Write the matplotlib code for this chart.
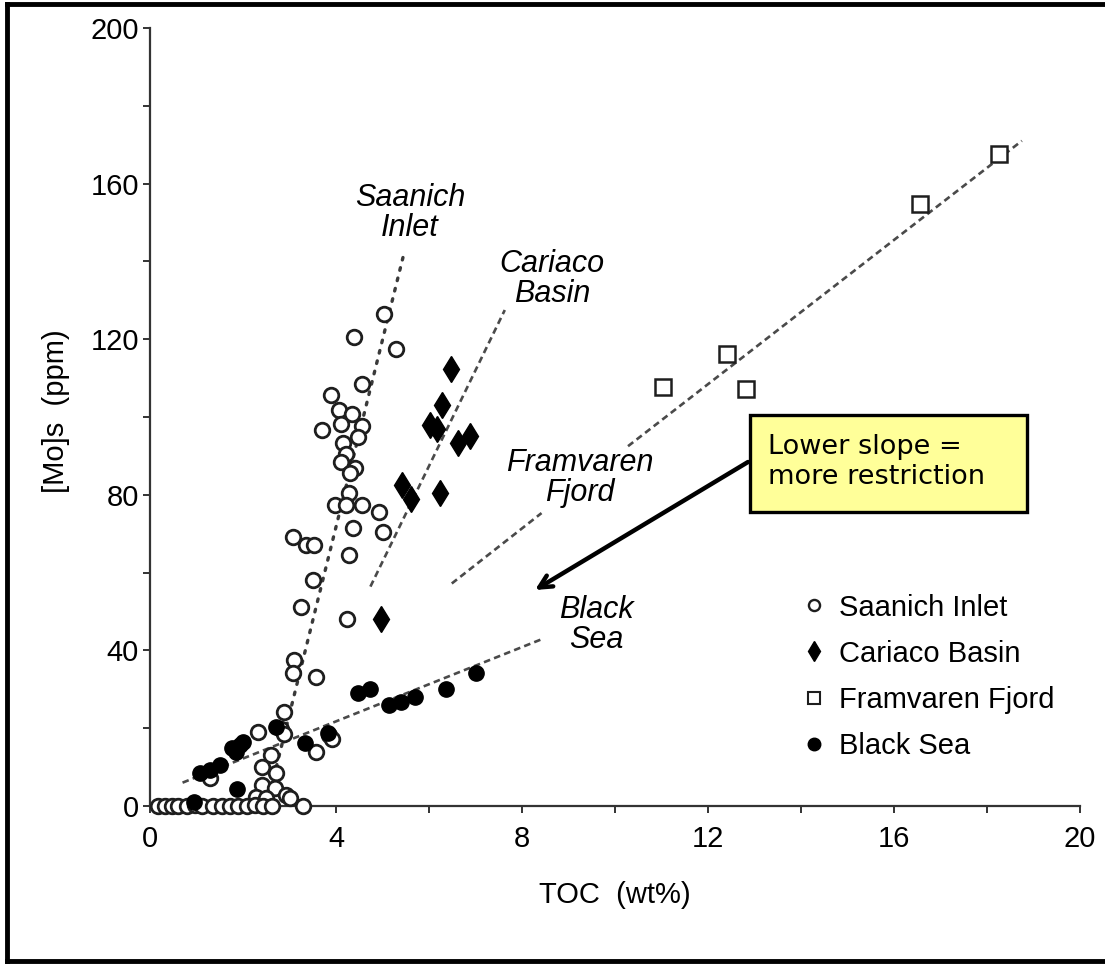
import matplotlib
matplotlib.use("Agg")
import matplotlib.pyplot as plt
from matplotlib.lines import Line2D
from matplotlib.patches import Rectangle

plt.rcParams['font.family'] = ['Liberation Sans', 'DejaVu Sans']

# --- data: TOC (wt%) vs. sedimentary Mo (ppm) ---
saanich_toc = [5.04, 4.39, 5.29, 4.55, 3.89, 4.07, 4.34, 4.10, 4.55, 3.69, 4.48, 4.14,
               4.21, 4.10, 4.41, 4.30, 4.27, 3.98, 4.21, 4.55, 4.93, 5.02, 4.36, 3.08,
               3.35, 3.53, 4.27, 3.51, 3.24, 4.23, 3.10, 3.07, 3.56, 2.88, 2.33, 2.81,
               2.88, 3.86, 3.91, 3.57, 2.60, 2.40, 2.70, 1.28, 2.40, 2.69, 2.29, 2.49,
               2.92, 3.01, 3.30,
               0.18, 0.32, 0.47, 0.61, 0.80, 0.97, 1.12, 1.35, 1.55, 1.72, 1.89, 2.09,
               2.26, 2.43, 2.62]
saanich_mo = [126.6, 120.5, 117.4, 108.6, 105.6, 101.8, 100.8, 98.2, 97.7, 96.7, 94.9, 93.2,
              90.5, 88.5, 86.8, 85.5, 80.5, 77.4, 77.4, 77.4, 75.6, 70.5, 71.4, 69.2,
              67.1, 67.1, 64.5, 58.1, 51.2, 48.2, 37.5, 34.1, 33.2, 24.2, 19.1, 19.9,
              18.6, 18.3, 17.1, 13.9, 13.1, 10.1, 8.6, 7.1, 5.4, 4.5, 2.4, 2.0,
              2.8, 2.0, 0.0,
              0.0, 0.0, 0.0, 0.0, 0.0, 0.3, 0.0, 0.0, 0.0, 0.0, 0.0, 0.0,
              0.3, 0.0, 0.0]

cariaco_toc = [6.47, 6.29, 6.02, 6.18, 6.63, 6.88, 5.41, 5.61, 6.24, 4.96]
cariaco_mo = [112.3, 103.1, 97.9, 96.8, 93.4, 95.1, 82.5, 78.8, 80.5, 48.0]

framvaren_toc = [18.26, 16.56, 12.40, 11.03, 12.82]
framvaren_mo = [167.5, 154.8, 116.2, 107.7, 107.3]

blacksea_toc = [1.08, 1.29, 1.51, 1.76, 1.86, 1.94, 2.01, 1.88, 2.71, 3.33, 3.83,
                4.48, 4.73, 5.15, 5.40, 5.70, 6.37, 7.01, 0.95]
blacksea_mo = [8.4, 9.3, 10.5, 14.8, 14.0, 15.7, 16.5, 4.3, 20.4, 16.1, 18.7,
               29.0, 30.2, 26.0, 26.8, 28.1, 30.1, 34.2, 1.0]

# regression trends (end points, TOC / Mo)
saanich_fit_toc = [2.55, 5.44]
saanich_fit_mo = [2.0, 141.0]
cariaco_fit_toc = [4.74, 7.63]
cariaco_fit_mo = [56.4, 127.5]
framvaren_fit_lo_toc = [6.49, 8.42]
framvaren_fit_lo_mo = [57.2, 75.3]
framvaren_fit_hi_toc = [10.28, 18.75]
framvaren_fit_hi_mo = [92.5, 171.0]
blacksea_fit_toc = [0.70, 8.45]
blacksea_fit_mo = [6.0, 43.0]

series_names = ["Saanich Inlet", "Cariaco Basin", "Framvaren Fjord", "Black Sea"]
x_ticks = [0, 4, 8, 12, 16, 20]
y_ticks = [0, 40, 80, 120, 160, 200]

W, H = 1105, 966
fig = plt.figure(figsize=(W / 100, H / 100), dpi=100)
ax = fig.add_axes([150 / W, 1 - 806 / H, 930 / W, 778 / H])

ink = '#1e1e1e'
line_col = '#4a4a4a'

# trend lines
ax.plot(saanich_fit_toc, saanich_fit_mo, color='#3a3a3a', lw=2.4, ls=(0, (0.8, 2.4)),
        dash_capstyle='round', zorder=1)
for xs, ys in [(cariaco_fit_toc, cariaco_fit_mo),
               (framvaren_fit_lo_toc, framvaren_fit_lo_mo),
               (framvaren_fit_hi_toc, framvaren_fit_hi_mo),
               (blacksea_fit_toc, blacksea_fit_mo)]:
    ax.plot(xs, ys, color=line_col, lw=1.9, ls=(0, (2.5, 1.6)), zorder=1)

# data points
ax.plot(saanich_toc, saanich_mo, ls='none', marker='o', ms=10.5, mfc='white',
        mec=ink, mew=2.0, clip_on=False, zorder=3)
ax.plot(blacksea_toc, blacksea_mo, ls='none', marker='o', ms=11, mfc='black',
        mec='black', mew=1.0, clip_on=False, zorder=4)
ax.plot(cariaco_toc, cariaco_mo, ls='none', marker='d', ms=13.5, mfc='black',
        mec='black', mew=1.0, clip_on=False, zorder=4)
ax.plot(framvaren_toc, framvaren_mo, ls='none', marker='s', ms=11, mfc='white',
        mec=ink, mew=1.8, clip_on=False, zorder=3)

# axes styling
ax.set_xlim(0, 20)
ax.set_ylim(0, 200)
for side in ('top', 'right'):
    ax.spines[side].set_visible(False)
for side in ('left', 'bottom'):
    ax.spines[side].set_linewidth(1.6)
    ax.spines[side].set_color('#333333')
ax.set_xticks(x_ticks)
ax.set_yticks(y_ticks)
ax.set_xticks([2, 6, 10, 14, 18], minor=True)
ax.set_yticks([20, 60, 100, 140, 180], minor=True)
ax.tick_params(which='both', direction='out', length=5, width=1.4, color='#333333')
ax.tick_params(axis='x', which='major', labelsize=21, pad=9)
ax.tick_params(axis='y', which='major', labelsize=21, pad=3)
ax.set_xlabel("TOC  (wt%)", fontsize=21)
ax.set_ylabel("[Mo]s  (ppm)", fontsize=21)
ax.xaxis.set_label_coords(0.5, -0.097)
ax.yaxis.set_label_coords(-0.086, 0.508)

# series labels
lab_kw = dict(fontsize=22, style='italic', ha='center', va='center', linespacing=1.0)
ax.text(5.59, 152.5, "Saanich\nInlet", **lab_kw)
ax.text(8.65, 135.5, "Cariaco\nBasin", **lab_kw)
ax.text(9.25, 84.3, "Framvaren\nFjord", **lab_kw)
ax.text(9.59, 46.5, "Black\nSea", **lab_kw)

# legend
handles = [
    Line2D([], [], ls='none', marker='o', ms=8, mfc='white', mec=ink, mew=1.7),
    Line2D([], [], ls='none', marker='d', ms=10.5, mfc='black', mec='black'),
    Line2D([], [], ls='none', marker='s', ms=8.5, mfc='white', mec=ink, mew=1.5),
    Line2D([], [], ls='none', marker='o', ms=9, mfc='black', mec='black'),
]
fig.legend(handles, series_names, loc='upper left',
           bbox_to_anchor=(788 / W, 1 - 579 / H), frameon=False, fontsize=21,
           handlelength=0.8, handletextpad=0.45, labelspacing=0.62, borderpad=0)

# callout box with arrow
fig.patches.append(Rectangle((750 / W, 1 - 512 / H), 277 / W, 97 / H,
                             transform=fig.transFigure, facecolor='#ffff99',
                             edgecolor='black', lw=2.4, zorder=5))
fig.text(768 / W, 1 - 462 / H, "Lower slope =\nmore restriction",
         family='DejaVu Sans', fontsize=19.5, va='center', ha='left',
         linespacing=1.22, zorder=6)
ax.annotate("", xy=(535 / W, 1 - 590 / H), xycoords='figure fraction',
            xytext=(748 / W, 1 - 462 / H), textcoords='figure fraction',
            arrowprops=dict(arrowstyle='->,head_length=0.9,head_width=0.45',
                            color='black', lw=3.2, shrinkA=0, shrinkB=0),
            annotation_clip=False)

# outer frame
for (x0, y0, x1, y1) in [(7, 4, 7, 961), (7, 4, 1105, 4), (7, 961, 1105, 961)]:
    fig.add_artist(Line2D([x0 / W, x1 / W], [1 - y0 / H, 1 - y1 / H],
                          transform=fig.transFigure, color='black', lw=3.5))

fig.savefig("out.png", dpi=100)
